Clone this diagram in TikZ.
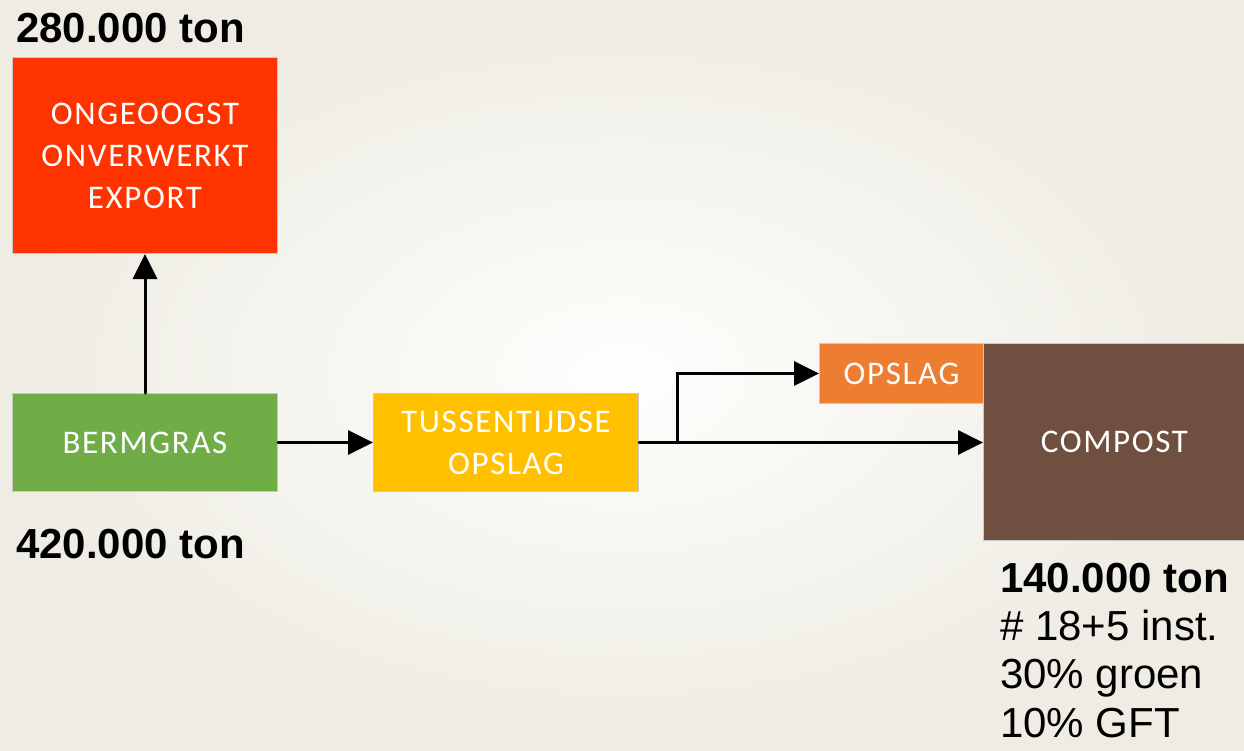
\documentclass[tikz,border=0pt]{standalone}
\usepackage{fontspec}
\setmainfont{Liberation Sans}
\newfontfamily\boxfont[LetterSpace=5]{Carlito}
\usetikzlibrary{arrows.meta,calc}
\definecolor{bgedge}{HTML}{EEECE3}
\definecolor{bgmid}{HTML}{FEFEFD}
\definecolor{redbox}{HTML}{FF3300}
\definecolor{greenbox}{HTML}{70AD47}
\definecolor{yellowbox}{HTML}{FFC000}
\definecolor{orangebox}{HTML}{ED7D31}
\definecolor{brownbox}{HTML}{6F5040}
\definecolor{boxline}{HTML}{C9C9C9}

\begin{document}
\begin{tikzpicture}[x=1pt,y=-1pt,
  flowbox/.style={draw=boxline, line width=1pt, text=white,
    font=\boxfont\fontsize{33}{42}\selectfont, align=center,
    inner sep=0pt, anchor=north west},
  flow/.style={line width=3pt, line cap=round,
    -{Triangle[length=25pt,width=24pt]}},
  amount/.style={font=\bfseries\fontsize{42}{48}\selectfont,
    anchor=base west, inner sep=0pt},
  detail/.style={font=\fontsize{42}{48}\selectfont,
    anchor=base west, inner sep=0pt}]

% page and soft background
\useasboundingbox (0,0) rectangle (1244,750);
\fill[inner color=bgmid, outer color=bgedge] (0,0) rectangle (1244,750);

% process boxes
\node[flowbox, fill=redbox, minimum width=265pt, minimum height=196pt]
  (export) at (12,57) {ONGEOOGST\\ONVERWERKT\\EXPORT};
\node[flowbox, fill=greenbox, minimum width=265pt, minimum height=98pt]
  (berm) at (12,393) {BERMGRAS};
\node[flowbox, fill=yellowbox, minimum width=265pt, minimum height=98pt]
  (tussen) at (373,393) {TUSSENTIJDSE\\OPSLAG};
\node[flowbox, fill=orangebox, minimum width=164pt, minimum height=60pt]
  (opslag) at (819,343) {OPSLAG};
\node[flowbox, fill=brownbox, minimum width=262pt, minimum height=197pt]
  (compost) at (983,343) {COMPOST};

% flows
\draw[flow] (berm.north) -- (export.south);
\draw[flow] (berm.east) -- (tussen.west);
\draw[flow] (tussen.east) -- (tussen.east -| compost.west);
\coordinate (split) at ($(tussen.east)+(38,0)$);
\draw[flow] (split) |- (opslag.west);

% quantities
\node[amount] (t280) at (16,42) {280.000 ton};
\node[amount] (t420) at (16,558) {420.000 ton};
\node[amount] (t140) at (1000,592) {140.000 ton};
\node[detail] (inst) at (1000,640) {\# 18+5 inst.};
\node[detail] (groen) at (1000,688) {30\% groen};
\node[detail] (gft) at (1000,737) {10\% GFT};
\end{tikzpicture}
\end{document}
